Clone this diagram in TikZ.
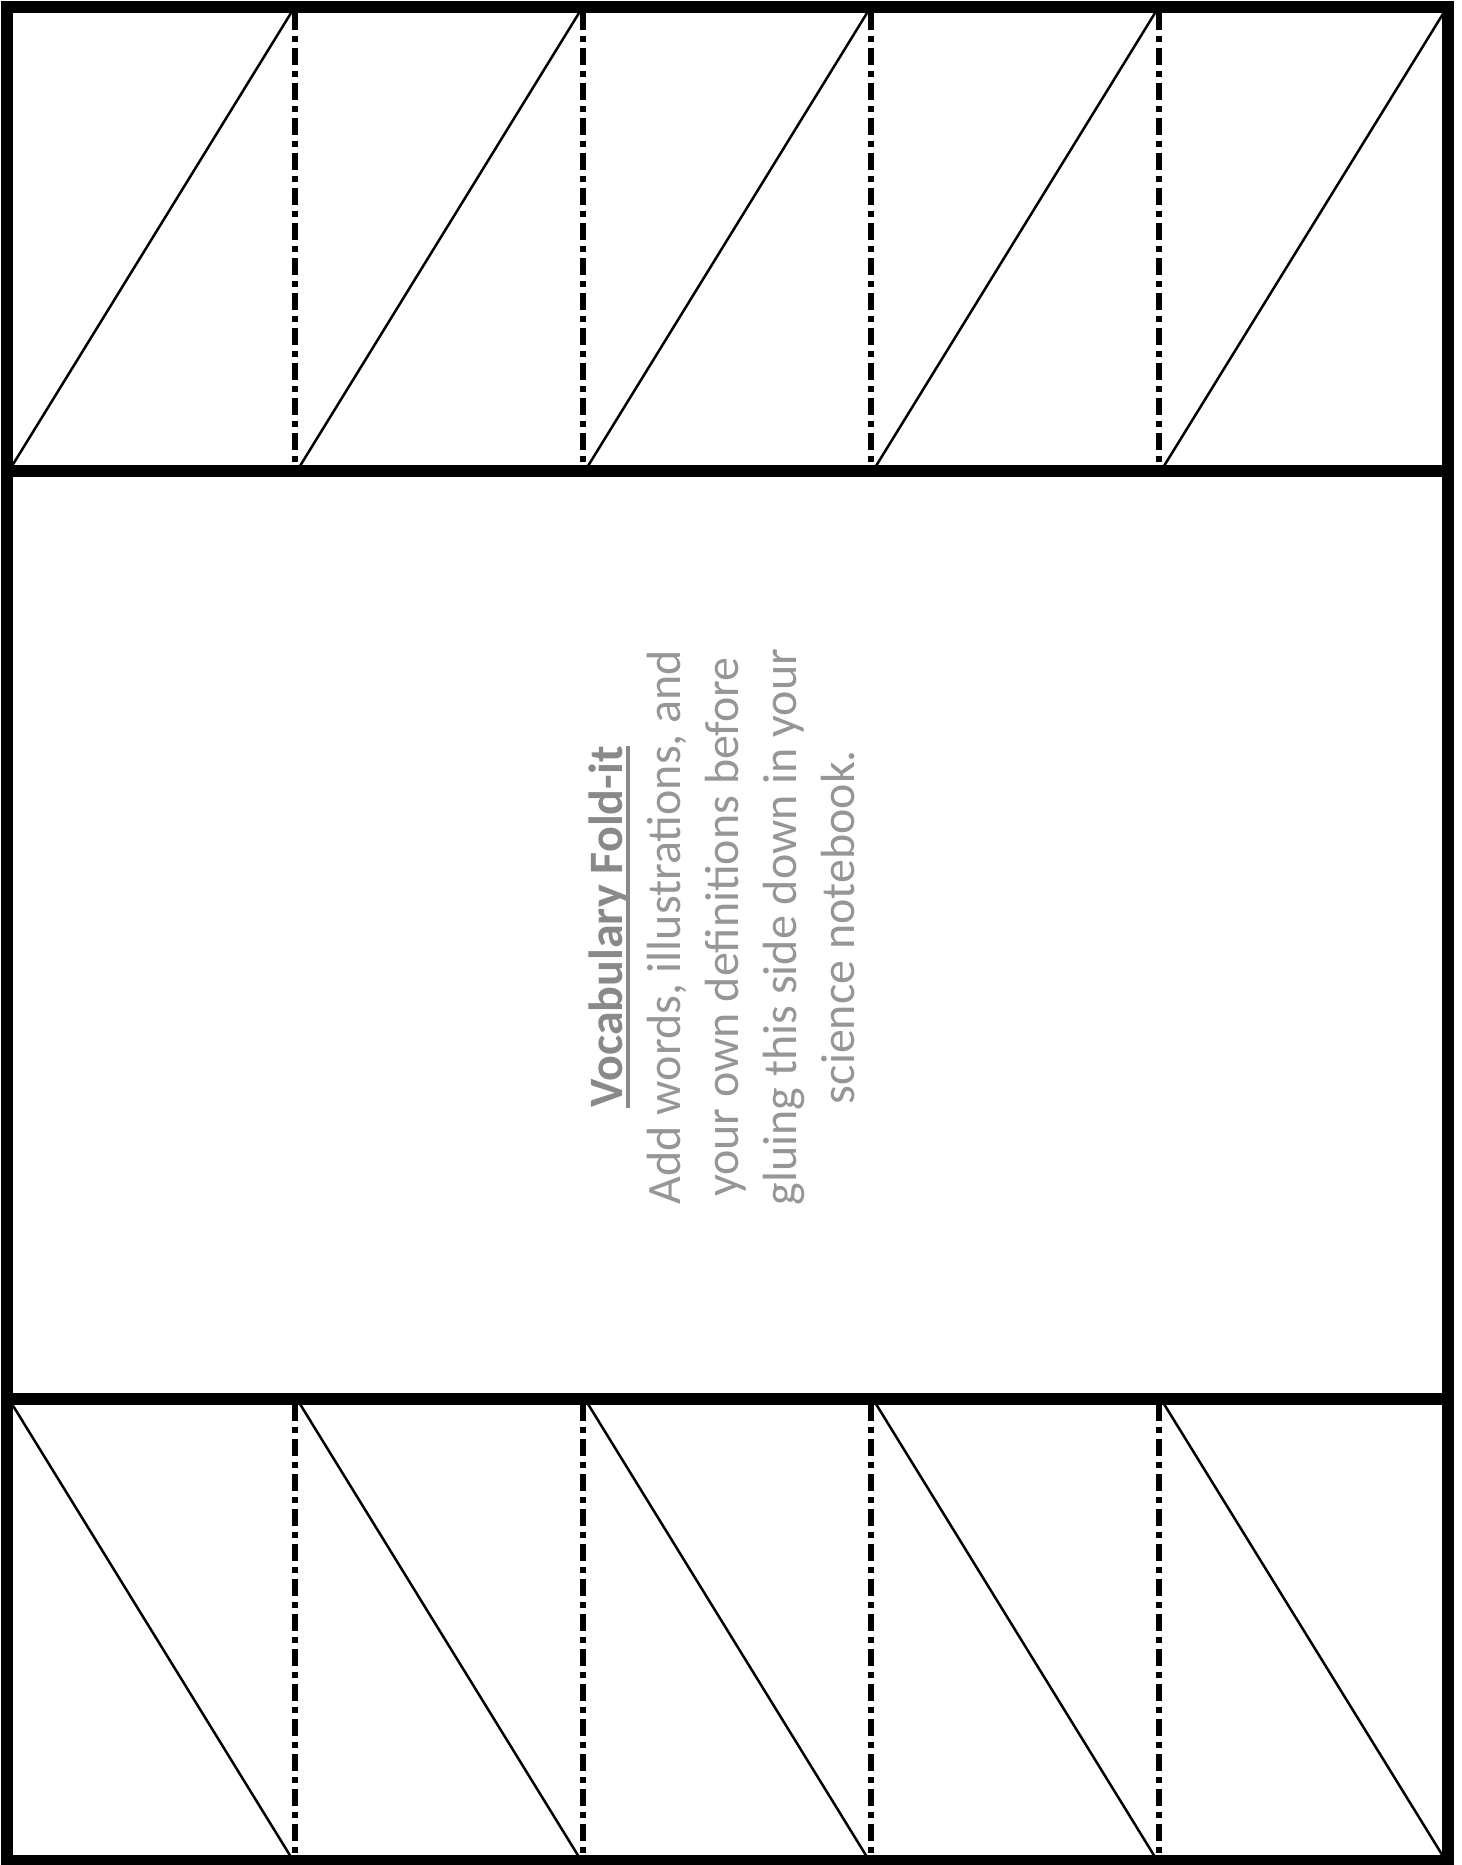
\documentclass[tikz,border=0pt]{standalone}
\usepackage{fontspec}
\setmainfont{Carlito}
\definecolor{bodygray}{RGB}{150,150,150}
\definecolor{titlegray}{RGB}{137,137,137}
\newcommand{\titleul}[1]{{\setbox0\hbox{#1}\rlap{\rule[-0.16em]{\wd0}{0.09em}}\box0}}
\begin{document}
\begin{tikzpicture}[x=0.4pt,y=-0.4pt,
  frame/.style={line width=4.8pt, line join=miter},
  fold/.style={line width=2.2pt, dash pattern=on 6.8pt off 2.4pt on 2.4pt off 2.4pt},
  diag/.style={line width=1pt}]
\useasboundingbox (0,0) rectangle (1461,1865);
\draw[frame] (7,7) rectangle (1447.5,1861);
\draw[frame] (7,471) -- (1447.5,471);
\draw[frame] (7,1398.5) -- (1447.5,1398.5);
\foreach \x in {295,583,871,1159} {
  \draw[fold] (\x,13) -- (\x,465);
  \draw[fold] (\x,1404) -- (\x,1857);
}
\foreach \l/\r in {7/295,295/583,583/871,871/1159,1159/1447.5} {
  \draw[diag] (\l+5,466) -- (\r-4,13);
  \draw[diag] (\l+5,1404) -- (\r-4,1857);
}
\node[rotate=90, align=center, inner sep=0pt, font=\fontsize{19.2}{23.2}\selectfont, text=bodygray] (txt) at (722,927)
  {{\bfseries\color{titlegray}\titleul{Vocabulary Fold-it}}\\Add words, illustrations, and\\your own definitions before\\gluing this side down in your\\science notebook.};
\end{tikzpicture}
\end{document}
